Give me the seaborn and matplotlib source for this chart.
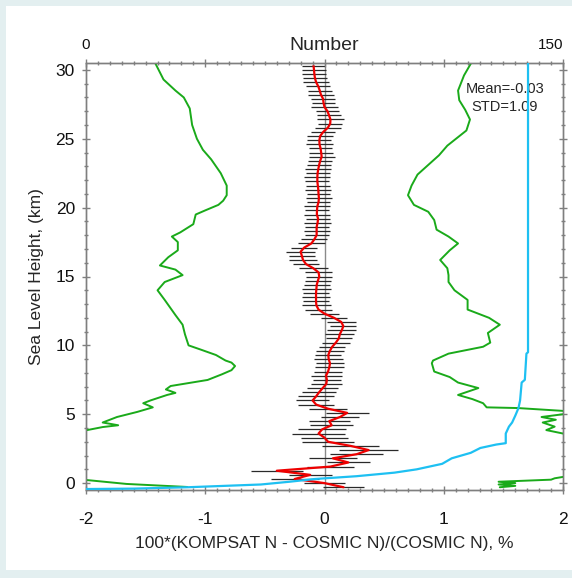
import numpy as np
import pandas as pd
import matplotlib
matplotlib.use("Agg")
import matplotlib.pyplot as plt
from matplotlib.patches import Rectangle
from matplotlib.ticker import MultipleLocator, FixedLocator
import seaborn as sns

sns.set_style("ticks")
plt.rcParams['font.family'] = ['Liberation Sans', 'DejaVu Sans']

# ---------------- data ----------------
heights = [-0.3, 0.0, 0.3, 0.6, 0.9, 1.2, 1.5, 1.8, 2.1, 2.4, 2.7,
           3.0, 3.3, 3.6, 3.9, 4.2, 4.5, 4.8, 5.1, 5.4, 5.7,
           6.0, 6.3, 6.6, 6.9, 7.2, 7.5, 7.8, 8.1, 8.4, 8.7,
           9.0, 9.3, 9.6, 9.9, 10.2, 10.5, 10.8, 11.1, 11.4, 11.7,
           12.0, 12.3, 12.6, 12.9, 13.2, 13.5, 13.8, 14.1, 14.4, 14.7,
           15.0, 15.3, 15.6, 15.9, 16.2, 16.5, 16.8, 17.1, 17.4, 17.7,
           18.0, 18.3, 18.6, 18.9, 19.2, 19.5, 19.8, 20.1, 20.4, 20.7,
           21.0, 21.3, 21.6, 21.9, 22.2, 22.5, 22.8, 23.1, 23.4, 23.7,
           24.0, 24.3, 24.6, 24.9, 25.2, 25.5, 25.8, 26.1, 26.4, 26.7,
           27.0, 27.3, 27.6, 27.9, 28.2, 28.5, 28.8, 29.1, 29.4, 29.7,
           30.0, 30.3]

mean_diff = [0.16, 0.0, -0.25, -0.12, -0.40, 0.05, 0.20, 0.07, 0.27, 0.37, 0.22,
             0.03, 0.0, -0.05, -0.02, 0.06, 0.04, 0.13, 0.19, 0.03, -0.07,
             -0.10, -0.07, -0.045, -0.015, 0.015, 0.02, 0.013, 0.03, 0.04, 0.046,
             0.035, 0.032, 0.045, 0.065, 0.095, 0.12, 0.128, 0.145, 0.158, 0.14,
             0.08, 0.0, -0.05, -0.068, -0.071, -0.071, -0.071, -0.068, -0.065, -0.055,
             -0.044, -0.05, -0.094, -0.155, -0.18, -0.19, -0.20, -0.17, -0.11, -0.085,
             -0.066, -0.066, -0.066, -0.058, -0.054, -0.064, -0.063, -0.06, -0.05, -0.047,
             -0.05, -0.052, -0.056, -0.06, -0.06, -0.058, -0.052, -0.045, -0.036, -0.024,
             -0.028, -0.033, -0.042, -0.043, -0.036, -0.01, 0.028, 0.048, 0.05, 0.038,
             0.025, 0.0, -0.008, -0.012, -0.03, -0.04, -0.052, -0.07, -0.08, -0.085,
             -0.088, -0.092]

err_half = [0.17, 0.17, 0.20, 0.18, 0.22, 0.20, 0.18, 0.20, 0.22, 0.25, 0.24,
            0.22, 0.20, 0.22, 0.20, 0.18, 0.17, 0.16, 0.18, 0.16, 0.15,
            0.14, 0.15, 0.14, 0.13, 0.13, 0.12, 0.13, 0.12, 0.12, 0.12,
            0.12, 0.11, 0.12, 0.11, 0.12, 0.11, 0.12, 0.12, 0.11, 0.12,
            0.11, 0.12, 0.11, 0.12, 0.11, 0.12, 0.11, 0.12, 0.11, 0.11,
            0.11, 0.11, 0.12, 0.11, 0.12, 0.11, 0.12, 0.11, 0.11, 0.11,
            0.10, 0.11, 0.10, 0.11, 0.10, 0.11, 0.10, 0.11, 0.10, 0.11,
            0.10, 0.11, 0.10, 0.10, 0.11, 0.10, 0.11, 0.10, 0.10, 0.11,
            0.10, 0.10, 0.11, 0.10, 0.11, 0.10, 0.11, 0.10, 0.11, 0.10,
            0.10, 0.11, 0.10, 0.10, 0.11, 0.10, 0.10, 0.11, 0.10, 0.10,
            0.10, 0.10]

# left green profile (height, value), ordered from bottom to top
left_h = [-0.28, -0.06, 0.22, 0.3, 2.0, 3.8, 3.85, 4.07, 4.2, 4.4, 4.8, 5.17, 5.5, 5.8,
          6.0, 6.4, 6.55, 6.8, 7.05, 7.49, 7.9, 8.2, 8.5, 8.75, 8.9, 9.3, 9.7, 10.0, 10.8, 11.5,
          12.2, 13.3, 14.0, 14.6, 15.1, 15.5, 15.8, 16.4, 16.9, 17.5, 17.9, 18.2, 18.8,
          19.5, 19.8, 20.2, 20.5, 20.9, 21.6, 22.5, 23.5, 24.2, 25.0, 26.0, 27.2, 28.0,
          28.5, 29.3, 30.5]
left_v = [-1.15, -1.66, -1.99, -2.05, -2.4, -2.02, -1.99, -1.86, -1.73, -1.86, -1.74, -1.57, -1.44, -1.52,
          -1.46, -1.32, -1.25, -1.33, -1.29, -0.98, -0.86, -0.78, -0.75, -0.78, -0.83, -0.91, -1.04, -1.14,
          -1.17, -1.19,
          -1.25, -1.34, -1.40, -1.34, -1.19, -1.25, -1.38, -1.31, -1.23, -1.23, -1.28, -1.21, -1.10,
          -1.08, -1.00, -0.89, -0.85, -0.82, -0.82, -0.87, -0.95, -1.02, -1.07, -1.11, -1.13, -1.18,
          -1.25, -1.35, -1.42]

# right green profile (height, value), ordered from bottom to top
right_h = [-0.3, -0.2, -0.1, 0.0, 0.1, 0.25, 0.35, 0.45, 0.6, 2.0, 3.5, 3.6, 3.85, 4.1, 4.4,
           4.6, 4.8, 5.0, 5.2, 5.45, 5.5, 5.8, 6.1, 6.4, 6.9, 7.3, 7.7, 8.1, 8.7, 8.9,
           9.4, 9.9, 10.2, 10.9, 11.5, 12.0, 12.6, 13.3, 14.0, 14.6, 15.1, 15.6, 16.2,
           16.9, 17.4, 17.9, 18.4, 19.1, 19.7, 20.2, 20.9, 21.6, 22.4, 23.1, 23.8, 24.5,
           25.6, 26.4, 27.1, 27.8, 28.5, 29.6, 30.5]
right_v = [1.47, 1.60, 1.46, 1.60, 1.46, 1.90, 1.93, 2.0, 2.1, 2.4, 2.05, 2.0, 1.86, 1.93, 1.83,
           1.94, 1.82, 2.0, 2.08, 1.62, 1.36, 1.33, 1.24, 1.12, 1.29, 1.12, 1.05, 0.92, 0.90, 0.91,
           1.04, 1.33, 1.39, 1.37, 1.47, 1.38, 1.20, 1.20, 1.09, 1.04, 1.04, 1.03, 0.97,
           1.05, 1.12, 1.04, 0.94, 0.92, 0.87, 0.75, 0.70, 0.73, 0.78, 0.87, 0.96, 1.03,
           1.19, 1.22, 1.18, 1.13, 1.12, 1.17, 1.23]

# number of profiles (top axis)
num_h = [-0.43, -0.4, -0.3, -0.1, 0.1, 0.3, 0.5, 0.76, 1.0, 1.2, 1.4, 1.8, 2.2, 2.55,
         2.8, 2.9, 3.6, 4.1, 4.4, 4.9, 5.45, 6.0, 7.3, 7.5, 9.4, 9.5, 30.5]
num_v = [0, 15, 32, 55, 64, 72, 85, 97, 104, 108, 112, 115, 121, 124,
         129, 132, 132, 133, 134, 135, 136, 136.5, 137, 138, 138.5, 139, 139]

mean_text = "Mean=-0.03"
std_text = "STD=1.09"

# ---------------- figure ----------------
W, H = 572, 578
fig = plt.figure(figsize=(W / 100, H / 100), dpi=100)
fig.patch.set_facecolor('#e3eff0')
fig.add_artist(Rectangle((6 / W, 8 / H), 1 - 6 / W, 1 - 14 / H, transform=fig.transFigure,
                         facecolor='white', edgecolor='none', zorder=0))

ax = fig.add_axes([86 / W, 88 / H, 477 / W, 427 / H])
ax.set_facecolor('white')

ax.axvline(0, color='#8a8a8a', lw=1.0, zorder=1)

ax.errorbar(mean_diff, heights, xerr=err_half, fmt='none', ecolor='#2a2a2a',
            elinewidth=0.9, capsize=0, zorder=2)

dfl = pd.DataFrame({'h': left_h, 'v': left_v})
dfr = pd.DataFrame({'h': right_h, 'v': right_v})
dfm = pd.DataFrame({'h': heights, 'v': mean_diff})
green = '#1aaa1a'
sns.lineplot(data=dfl, x='v', y='h', orient='y', sort=False, estimator=None,
             color=green, lw=1.4, ax=ax, zorder=3)
sns.lineplot(data=dfr, x='v', y='h', orient='y', sort=False, estimator=None,
             color=green, lw=1.4, ax=ax, zorder=3)
sns.lineplot(data=dfm, x='v', y='h', orient='y', sort=False, estimator=None,
             color='#ee0000', lw=1.6, ax=ax, zorder=4)

ax.set_xlim(-2, 2)
ax.set_ylim(-0.5, 30.5)

ax2 = ax.twiny()
dfn = pd.DataFrame({'h': num_h, 'v': num_v})
sns.lineplot(data=dfn, x='v', y='h', orient='y', sort=False, estimator=None,
             color='#1ec0f2', lw=1.6, ax=ax2, zorder=3)
ax2.set_xlim(0, 150)
ax2.set_ylim(-0.5, 30.5)

spine_c = '#7f7f7f'
for a in (ax, ax2):
    for s in a.spines.values():
        s.set_color(spine_c)
        s.set_linewidth(1.0)
        s.set_visible(True)

# bottom axis ticks
ax.xaxis.set_major_locator(FixedLocator([-2, -1, 0, 1, 2]))
ax.set_xticklabels(['-2', '-1', '0', '1', '2'])
ax.xaxis.set_minor_locator(MultipleLocator(0.1))
ax.yaxis.set_major_locator(MultipleLocator(5))
ax.yaxis.set_minor_locator(MultipleLocator(1))
ax.tick_params(axis='both', which='major', length=6, width=1, color=spine_c,
               labelsize=12.5, labelcolor='#111111', direction='inout')
ax.tick_params(axis='both', which='minor', length=3.5, width=1, color=spine_c,
               direction='inout')
ax.tick_params(axis='x', which='both', top=False, pad=13)
ax.tick_params(axis='y', which='both', left=True, right=True, labelleft=True, pad=5)

# top axis ticks
ax2.xaxis.set_major_locator(FixedLocator([0, 37.5, 75, 112.5, 150]))
ax2.set_xticklabels(['0', '', '', '', '150'])
ax2.xaxis.set_minor_locator(MultipleLocator(3.75))
ax2.tick_params(axis='x', which='major', length=6, width=1, color=spine_c,
                labelsize=11, labelcolor='#111111', direction='inout', pad=5)
ax2.tick_params(axis='x', which='minor', length=3.5, width=1, color=spine_c,
                direction='inout')
for lbl in ax2.get_xticklabels():
    if lbl.get_text() == '150':
        lbl.set_horizontalalignment('right')
ax2.set_xlabel('')
ax2.set_ylabel('')
ax2.tick_params(axis='y', which='both', left=False, right=False, labelleft=False, labelright=False)
ax.text(0.5, 1 + 18 / 427, 'Number', transform=ax.transAxes, ha='center', va='center',
        fontsize=14)

ax.set_xlabel('100*(KOMPSAT N - COSMIC N)/(COSMIC N), %', fontsize=12.5, labelpad=6)
ax.set_ylabel('Sea Level Height, (km)', fontsize=12.5, labelpad=8)

ax.text(0.878, 0.938, mean_text, transform=ax.transAxes, ha='center', va='center', fontsize=10.5)
ax.text(0.878, 0.898, std_text, transform=ax.transAxes, ha='center', va='center', fontsize=10.5)

fig.savefig('out.png', dpi=100, facecolor=fig.get_facecolor())
